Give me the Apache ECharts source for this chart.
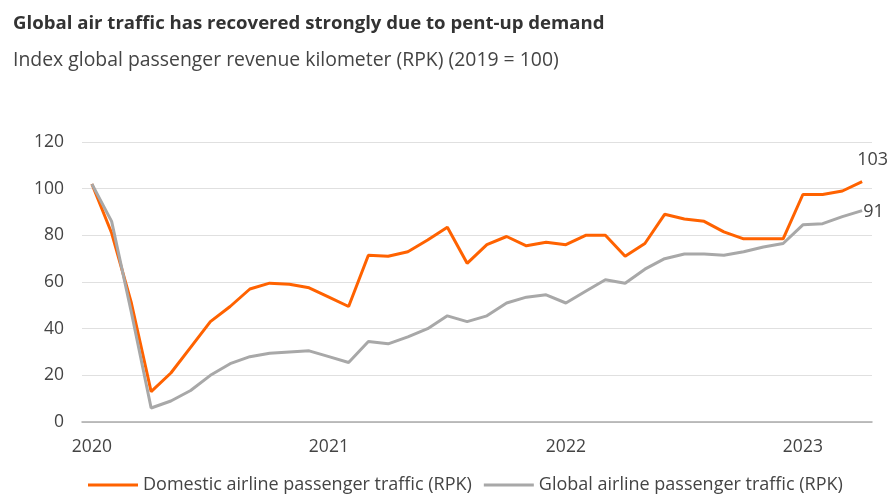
<!DOCTYPE html>
<html>
<head>
<meta charset="utf-8">
<script src="https://cdn.jsdelivr.net/npm/echarts@6/dist/echarts.min.js"></script>
<style>
  html, body { margin: 0; padding: 0; background: #fff; }
  #chart { width: 890px; height: 499px; }
</style>
</head>
<body>
<div id="chart"></div>
<script>
// monthly, Jan 2020 - Apr 2023
const months = [];
for (let y = 2020; y <= 2023; y++) {
  for (let m = 1; m <= 12; m++) {
    if (y === 2023 && m > 4) break;
    months.push(y + "-" + (m < 10 ? "0" + m : m));
  }
}

const domestic = [
  102, 81, 51, 13, 21, 32, 43, 49.5, 57, 59.5, 59, 57.5,
  53.5, 49.5, 71.5, 71, 73, 78, 83.5, 68, 76, 79.5, 75.5, 77,
  76, 80, 80, 71, 76.5, 89, 87, 86, 81.5, 78.5, 78.5, 78.5,
  97.5, 97.5, 99, 103
];

const global = [
  102, 86, 47, 6, 9, 13.5, 20, 25, 28, 29.5, 30, 30.5,
  28, 25.5, 34.5, 33.5, 36.5, 40, 45.5, 43, 45.5, 51, 53.5, 54.5,
  51, 56, 61, 59.5, 65.5, 70, 72, 72, 71.5, 73, 75, 76.5,
  84.5, 85, 88, 90.6
];

const yTicks = { min: 0, max: 120, interval: 20 };

const font = "'Open Sans', 'Noto Sans', sans-serif";

const chart = echarts.init(document.getElementById("chart"));
chart.setOption({
  animation: false,
  textStyle: { fontFamily: font },
  title: [
    {
      text: "Global air traffic has recovered strongly due to pent-up demand",
      left: 8,
      top: 9,
      textStyle: { fontSize: 18.6, fontWeight: "bold", color: "#333", fontFamily: font }
    },
    {
      text: "Index global passenger revenue kilometer (RPK) (2019 = 100)",
      left: 8,
      top: 46,
      textStyle: { fontSize: 19.4, fontWeight: "normal", color: "#444", fontFamily: font }
    }
  ],
  grid: {
    left: 82,
    right: 18,
    top: 142,
    bottom: 77,
    containLabel: false
  },
  legend: {
    bottom: 0,
    left: 83,
    icon: "rect",
    itemWidth: 50,
    itemHeight: 3,
    itemGap: 12,
    textStyle: { fontSize: 18, color: "#444", fontFamily: font },
    data: ["Domestic airline passenger traffic (RPK)", "Global airline passenger traffic (RPK)"]
  },
  xAxis: {
    type: "category",
    boundaryGap: true,
    data: months,
    axisLine: { lineStyle: { color: "#aaa", width: 1.5 } },
    axisTick: { show: false },
    axisLabel: {
      interval: i => i % 12 === 0,
      formatter: v => v.slice(0, 4),
      color: "#444",
      fontSize: 17.5,
      margin: 16
    }
  },
  yAxis: {
    type: "value",
    min: yTicks.min,
    max: yTicks.max,
    interval: yTicks.interval,
    axisLine: { show: false },
    axisTick: { show: false },
    axisLabel: { color: "#444", fontSize: 17.5, margin: 18 },
    splitLine: { lineStyle: { color: "#e0e0e0", width: 1.2 } }
  },
  series: [
    {
      name: "Domestic airline passenger traffic (RPK)",
      type: "line",
      data: domestic,
      symbol: "none",
      lineStyle: { color: "#FF6200", width: 3 },
      itemStyle: { color: "#FF6200" },
      endLabel: {
        show: true,
        formatter: p => Math.round(p.value),
        color: "#444",
        fontSize: 18,
        fontFamily: font,
        offset: [-13, -22]
      }
    },
    {
      name: "Global airline passenger traffic (RPK)",
      type: "line",
      data: global,
      symbol: "none",
      lineStyle: { color: "#A8A8A8", width: 3 },
      itemStyle: { color: "#A8A8A8" },
      endLabel: {
        show: true,
        formatter: p => Math.round(p.value),
        color: "#444",
        fontSize: 18,
        fontFamily: font,
        distance: 1,
        offset: [0, 1]
      }
    }
  ]
});
</script>
</body>
</html>
